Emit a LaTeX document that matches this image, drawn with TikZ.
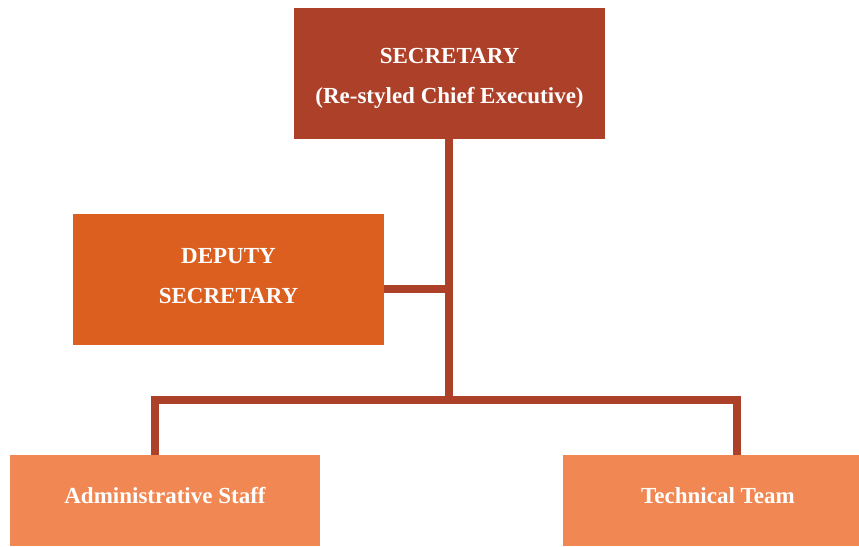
\documentclass[tikz,border=0pt]{standalone}
\usepackage{fontspec}
\setmainfont{Liberation Serif}
\usetikzlibrary{calc}
\definecolor{secred}{HTML}{AD4029}
\definecolor{deporange}{HTML}{DD5F1F}
\definecolor{staffpeach}{HTML}{F18753}
\tikzset{
	orgbox/.style={inner sep=0pt, text=white, align=center,
		font=\bfseries\fontsize{23}{40}\selectfont},
	orgline/.style={line width=8pt, draw=secred},
}

\begin{document}
\begin{tikzpicture}[x=1pt, y=-1pt]
			%%%%% START %%%%%
			
			\useasboundingbox (0, 0) rectangle (859, 546);
			
			\node[orgbox, fill=secred, minimum width=311pt, minimum height=131pt, text height=59.6pt, text depth=0pt] (sec) at (449.5, 73.5) {SECRETARY\\(Re-styled Chief Executive)};
			
			\node[orgbox, fill=deporange, minimum width=311pt, minimum height=131pt, text height=47.6pt, text depth=0pt] (dep) at (228.5, 279.5) {DEPUTY\\SECRETARY};
			
			\node[orgbox, fill=staffpeach, minimum width=310pt, minimum height=91pt, text height=14pt, text depth=9pt] (adm) at (165, 500.5) {Administrative Staff};
			\node[orgbox, fill=staffpeach, minimum width=310pt, minimum height=91pt, text height=14pt, text depth=9pt] (tech) at (718, 500.5) {Technical Team};
			
			\coordinate (hub) at (449, 400);
			\coordinate (depjoin) at (449, 289);
			\coordinate (admtop) at (155, 455);
			\coordinate (techtop) at (737, 455);
			
			\draw[orgline] (sec.south -| hub) -- (hub);
			\draw[orgline] (depjoin -| dep.east) -- (depjoin);
			\draw[orgline] (admtop) |- (hub) -| (techtop);
			
			%%%%% END %%%%%
\end{tikzpicture}
\end{document}
